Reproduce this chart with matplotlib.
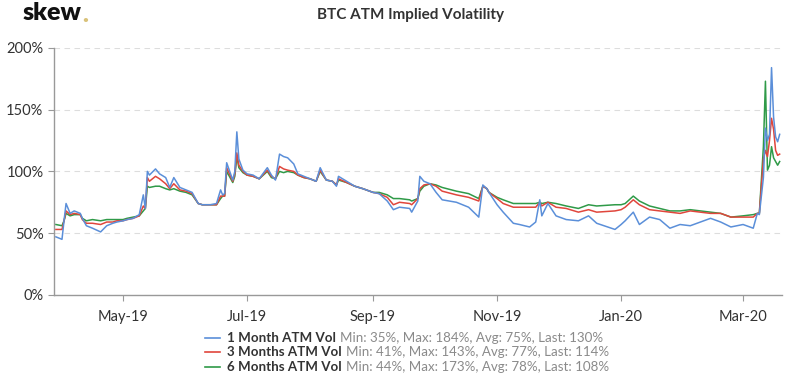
# BTC ATM implied volatility (1M / 3M / 6M), skew-style chart
import pandas as pd
import matplotlib
matplotlib.use('Agg')
import matplotlib.pyplot as plt
import matplotlib.dates as mdates
from matplotlib.ticker import FuncFormatter

plt.rcParams['font.family'] = ['Lato', 'DejaVu Sans']

# values (in %)
dates = ['2019-03-29', '2019-04-01', '2019-04-02', '2019-04-03', '2019-04-05', '2019-04-07',
         '2019-04-10', '2019-04-11', '2019-04-13', '2019-04-16', '2019-04-20', '2019-04-23',
         '2019-04-26', '2019-04-28', '2019-05-01', '2019-05-03', '2019-05-06', '2019-05-09',
         '2019-05-11', '2019-05-12', '2019-05-13', '2019-05-14', '2019-05-17', '2019-05-19',
         '2019-05-22', '2019-05-24', '2019-05-26', '2019-05-29', '2019-06-01', '2019-06-04',
         '2019-06-07', '2019-06-09', '2019-06-13', '2019-06-16', '2019-06-18', '2019-06-19',
         '2019-06-20', '2019-06-21', '2019-06-24', '2019-06-25', '2019-06-26', '2019-06-27',
         '2019-06-29', '2019-07-01', '2019-07-04', '2019-07-07', '2019-07-11', '2019-07-13',
         '2019-07-15', '2019-07-17', '2019-07-19', '2019-07-21', '2019-07-24', '2019-07-26',
         '2019-07-29', '2019-08-01', '2019-08-04', '2019-08-06', '2019-08-09', '2019-08-12',
         '2019-08-14', '2019-08-15', '2019-08-19', '2019-08-23', '2019-08-27', '2019-09-01',
         '2019-09-04', '2019-09-08', '2019-09-11', '2019-09-14', '2019-09-19', '2019-09-20',
         '2019-09-23', '2019-09-24', '2019-09-26', '2019-09-29', '2019-10-02', '2019-10-05',
         '2019-10-12', '2019-10-18', '2019-10-23', '2019-10-25', '2019-10-27', '2019-10-28',
         '2019-11-01', '2019-11-04', '2019-11-09', '2019-11-12', '2019-11-17', '2019-11-20',
         '2019-11-22', '2019-11-23', '2019-11-26', '2019-11-30', '2019-12-05', '2019-12-11',
         '2019-12-16', '2019-12-20', '2019-12-29', '2020-01-01', '2020-01-03', '2020-01-07',
         '2020-01-10', '2020-01-15', '2020-01-20', '2020-01-25', '2020-01-30', '2020-02-04',
         '2020-02-09', '2020-02-14', '2020-02-19', '2020-02-24', '2020-03-01', '2020-03-06',
         '2020-03-08', '2020-03-09', '2020-03-11', '2020-03-12', '2020-03-13', '2020-03-14',
         '2020-03-15', '2020-03-16', '2020-03-17', '2020-03-18', '2020-03-19']

vol_1m = [47, 45, 60, 74, 66, 68, 66, 62, 56, 54, 51, 56,
          58, 59, 60, 61, 62, 65, 81, 70, 100, 97, 102, 98,
          95, 87, 95, 87, 85, 83, 74, 73, 73, 74, 85, 81,
          82, 107, 93, 100, 132, 110, 101, 98, 97, 94, 103, 97,
          93, 114, 112, 111, 106, 98, 96, 94, 92, 103, 93, 92,
          88, 96, 92, 88, 86, 83, 82, 76, 69, 71, 70, 67,
          76, 96, 92, 90, 83, 77, 75, 71, 63, 89, 86, 83,
          73, 67, 58, 57, 55, 59, 77, 64, 74, 64, 61, 60,
          64, 58, 53, 57, 60, 67, 57, 63, 61, 54, 57, 56,
          59, 62, 59, 55, 57, 54, 66, 65, 95, 135, 125, 130,
          184, 144, 128, 124, 130]

vol_3m = [53, 53, 60, 68, 65, 66, 65, 61, 58, 58, 57, 59,
          59, 60, 60, 61, 62, 64, 72, 70, 95, 92, 96, 94,
          90, 86, 90, 85, 84, 82, 74, 73, 73, 73, 80, 80,
          80, 103, 92, 98, 115, 105, 100, 97, 96, 94, 101, 96,
          94, 104, 102, 101, 100, 97, 95, 94, 92, 101, 93, 92,
          89, 94, 91, 88, 86, 83, 82, 79, 73, 75, 74, 73,
          78, 86, 89, 90, 88, 84, 81, 79, 76, 88, 86, 83,
          78, 74, 71, 71, 71, 71, 75, 72, 75, 71, 70, 67,
          69, 67, 68, 69, 71, 77, 73, 69, 68, 67, 66, 68,
          67, 66, 66, 63, 63, 63, 66, 66, 110, 117, 112, 125,
          143, 134, 117, 113, 114]

vol_6m = [57, 56, 60, 66, 64, 65, 65, 62, 60, 61, 60, 61,
          61, 61, 61, 62, 63, 64, 68, 70, 88, 87, 88, 88,
          86, 85, 86, 84, 83, 81, 74, 73, 73, 73, 78, 80,
          80, 100, 91, 96, 112, 103, 99, 97, 96, 94, 100, 95,
          94, 100, 99, 100, 99, 97, 95, 94, 92, 100, 93, 92,
          89, 93, 91, 88, 86, 83, 83, 81, 78, 78, 77, 76,
          78, 84, 88, 90, 89, 87, 84, 82, 78, 88, 86, 83,
          79, 77, 74, 74, 74, 74, 75, 74, 75, 74, 72, 70,
          73, 72, 73, 73, 74, 80, 76, 72, 70, 68, 68, 69,
          68, 67, 66, 63, 64, 65, 66, 66, 120, 173, 101, 105,
          120, 111, 108, 105, 108]

series_names = ['1 Month ATM Vol', '3 Months ATM Vol', '6 Months ATM Vol']
series_stats = ['Min: 35%, Max: 184%, Avg: 75%, Last: 130%',
                'Min: 41%, Max: 143%, Avg: 77%, Last: 114%',
                'Min: 44%, Max: 173%, Avg: 78%, Last: 108%']
colors = ['#5b8fd9', '#e0463c', '#2f9a48']

df = pd.DataFrame({'1m': vol_1m, '3m': vol_3m, '6m': vol_6m}, index=pd.to_datetime(dates))

fig = plt.figure(figsize=(7.92, 3.83), dpi=100)
ax = fig.add_axes([0.068, 0.230, 0.919, 0.645])

# draw 6m first so the 1m line sits on top
for col, c in zip(['6m', '3m', '1m'], [colors[2], colors[1], colors[0]]):
    ax.plot(df.index, df[col], color=c, lw=1.1)

ax.set_ylim(0, 200)
ax.set_yticks([0, 50, 100, 150, 200])
ax.yaxis.set_major_formatter(FuncFormatter(lambda v, p: f'{v:.0f}%'))
ax.set_xlim(pd.Timestamp('2019-03-28'), pd.Timestamp('2020-03-20'))
ax.xaxis.set_major_locator(mdates.MonthLocator(bymonth=[1, 3, 5, 7, 9, 11]))
ax.xaxis.set_major_formatter(mdates.DateFormatter('%b-%y'))

ax.grid(axis='y', color='#dddddd', linestyle=(0, (5, 4)), lw=0.8)
for s in ['top', 'right']:
    ax.spines[s].set_visible(False)
for s in ['left', 'bottom']:
    ax.spines[s].set_color('#999999')
    ax.spines[s].set_linewidth(1.0)
ax.tick_params(axis='both', colors='#999999', labelcolor='#333333', labelsize=10.5, length=4)
ax.tick_params(axis='x', pad=7)

fig.text(0.518, 0.960, 'BTC ATM Implied Volatility', ha='center', va='center',
         fontsize=11, fontweight='bold', color='#333333')
logo = fig.text(0.028, 0.965, 'skew', ha='left', va='center', fontsize=18,
                fontweight='heavy', color='#111111')
fig.canvas.draw()
r = fig.canvas.get_renderer()
bb = logo.get_window_extent(r).transformed(fig.transFigure.inverted())
fig.text(bb.x1 + 0.001, 0.960, '.', ha='left', va='center', fontsize=18,
         fontweight='heavy', color='#d9c27a')

# legend: colored line, bold name, grey stats
row_y = [0.117, 0.080, 0.043]
for name, stats, c, y in zip(series_names, series_stats, colors, row_y):
    fig.add_artist(plt.Line2D([0.259, 0.278], [y, y], color=c, lw=1.2, transform=fig.transFigure))
    t = fig.text(0.287, y, name, ha='left', va='center', fontsize=9.6,
                 fontweight='bold', color='#333333')
    fig.canvas.draw()
    tb = t.get_window_extent(r).transformed(fig.transFigure.inverted())
    fig.text(tb.x1 + 0.005, y, stats, ha='left', va='center', fontsize=9.6, color='#8a8a8a')

fig.savefig('out.png', dpi=100)
